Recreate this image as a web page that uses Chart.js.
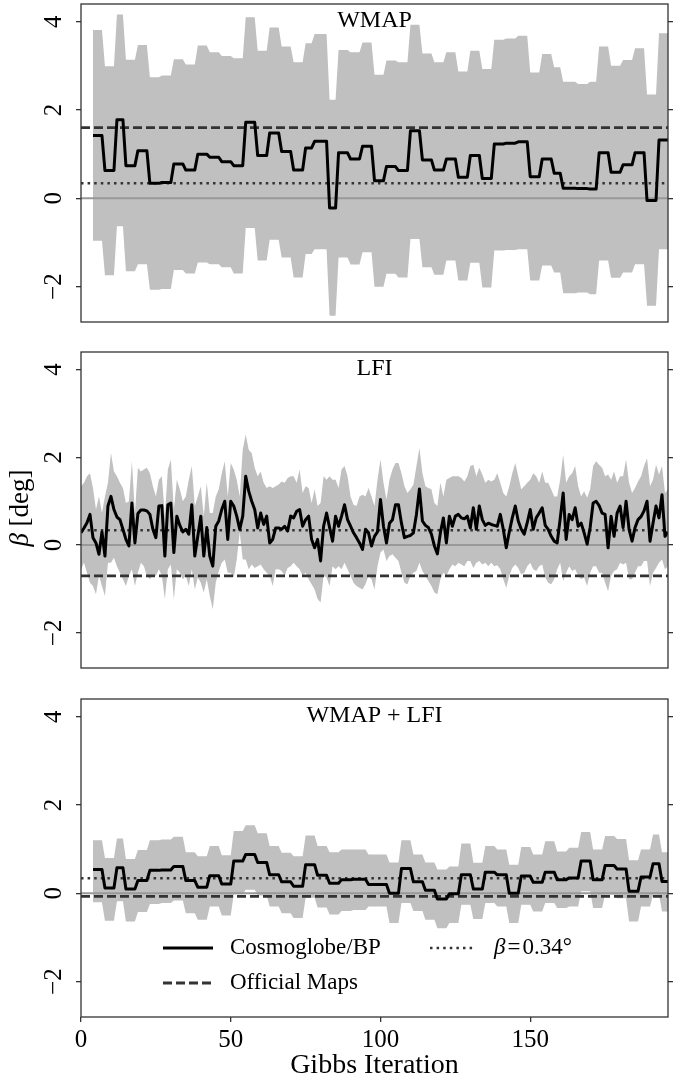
<!DOCTYPE html>
<html>
<head>
<meta charset="utf-8">
<script src="https://cdn.jsdelivr.net/npm/chart.js@4.4.0/dist/chart.umd.min.js"></script>
<style>
  html, body { margin: 0; padding: 0; background: #fff; }
  #wrap { position: relative; width: 691px; height: 1083px; }
  canvas { position: absolute; left: 0; }
</style>
</head>
<body>
<div id="wrap">
  <canvas id="c1" width="691" height="340" style="top:0px"></canvas>
  <canvas id="c2" width="691" height="340" style="top:340px"></canvas>
  <canvas id="c3" width="691" height="403" style="top:680px"></canvas>
</div>
<script>
const X_MAX = 196;
const Y_MIN = -2.8, Y_MAX = 4.4;
const xTicks = [0, 50, 100, 150];
const yTicks = [-2, 0, 2, 4];
const betaRef = 0.34;
const officialWmap = 1.60;
const officialLfi = -0.70;
const officialBoth = -0.07;

// WMAP only: sampler holds each value for a few iterations
const wmapStart = [4, 8, 12, 15, 19, 23, 27, 31, 35, 39, 43, 47, 51, 55, 59, 63, 67, 71, 75, 78, 83, 86, 90, 94, 98,
  102, 106, 110, 114, 118, 122, 126, 130, 134, 138, 142, 146, 150, 154, 158, 161, 166, 170, 173, 177, 181, 185, 189, 193];
const wmapEnd = [7, 11, 14, 18, 22, 26, 30, 34, 38, 42, 46, 50, 54, 58, 62, 66, 70, 74, 77, 82, 85, 89, 93, 97, 101,
  105, 109, 113, 117, 121, 125, 129, 133, 137, 141, 145, 149, 153, 157, 160, 165, 169, 172, 176, 180, 184, 188, 192, 196];
const wmapMean = [1.42, 0.63, 1.78, 0.74, 1.08, 0.34, 0.36, 0.78, 0.64, 1.00, 0.93, 0.83, 0.74, 1.72, 0.97, 1.48, 1.06,
  0.64, 1.14, 1.29, -0.22, 1.03, 0.89, 1.18, 0.40, 0.72, 0.63, 1.53, 0.87, 0.64, 0.89, 0.48, 0.97, 0.45, 1.23, 1.25,
  1.28, 0.49, 0.89, 0.57, 0.23, 0.22, 0.21, 1.03, 0.59, 0.76, 1.03, -0.05, 1.32];
const wmapLow = [-0.96, -1.74, -0.63, -1.65, -1.49, -2.07, -2.05, -1.62, -1.70, -1.45, -1.49, -1.56, -1.70, -0.67, -1.41,
  -0.94, -1.34, -1.79, -1.26, -1.15, -2.66, -1.34, -1.50, -1.22, -2.00, -1.71, -1.79, -0.92, -1.56, -1.73, -1.41, -1.86,
  -1.46, -2.02, -1.18, -1.17, -1.15, -1.86, -1.52, -1.68, -2.15, -2.13, -2.17, -1.41, -1.80, -1.68, -1.49, -2.43, -1.15];
const wmapHigh = [3.81, 2.99, 4.16, 3.14, 3.47, 2.74, 2.78, 3.15, 3.03, 3.46, 3.31, 3.22, 3.17, 4.10, 3.34, 3.87, 3.44,
  3.08, 3.51, 3.72, 2.23, 3.36, 3.31, 3.53, 2.80, 3.12, 3.08, 3.93, 3.28, 3.08, 3.31, 2.87, 3.34, 2.93, 3.59, 3.62,
  3.68, 2.85, 3.27, 2.97, 2.64, 2.59, 2.64, 3.44, 3.00, 3.13, 3.40, 2.35, 3.74];

// LFI: one value per iteration, starting at 0
const lfiFirst = 0;
const lfiMean = [
  0.28, 0.39, 0.51, 0.70, 0.17, 0.05, -0.21, 0.30, -0.25, 0.89,
  1.11, 0.81, 0.64, 0.58, 0.36, 0.13, -0.02, 0.96, 0.05, 0.72,
  0.80, 0.80, 0.78, 0.70, 0.36, 0.17, 0.89, 0.90, -0.25, 0.92,
  0.96, -0.17, 0.66, 0.45, 0.30, 0.36, 0.25, 0.92, -0.25, 0.20,
  0.66, -0.25, 0.40, -0.25, -0.48, 0.43, 0.55, 0.81, 1.00, 0.13,
  1.00, 0.89, 0.66, 0.36, 0.66, 1.57, 1.23, 1.00, 0.81, 0.39,
  0.73, 0.47, 0.66, 0.05, 0.13, 0.39, 0.39, 0.36, 0.43, 0.32,
  0.66, 0.62, 0.77, 0.81, 0.43, 0.58, 0.66, 0.13, -0.06, 0.13,
  -0.36, 0.43, 0.73, 0.40, 0.09, 0.66, 0.43, 0.66, 0.92, 0.58,
  0.43, 0.28, 0.17, 0.05, -0.10, 0.36, 0.28, -0.02, 0.20, 0.30,
  1.04, 0.43, 0.05, 0.50, 0.58, 0.92, 0.92, 0.50, 0.17, 0.20,
  0.22, 0.28, 0.70, 1.28, 0.55, 0.45, 0.40, 0.25, -0.02, -0.20,
  0.28, 0.62, 0.05, 0.66, 0.43, 0.66, 0.70, 0.62, 0.60, 0.66,
  0.39, 0.85, 0.36, 0.89, 0.58, 0.45, 0.50, 0.47, 0.45, 0.43,
  0.70, 0.36, -0.06, 0.30, 0.62, 0.89, 0.55, 0.36, 0.25, 0.51,
  0.81, 0.36, 0.62, 0.73, 0.85, 0.45, 0.36, 0.20, 0.09, 0.05,
  0.60, 1.19, 0.13, 0.70, 0.58, 0.85, 0.43, 0.50, 0.28, 0.02,
  0.40, 0.96, 1.00, 0.90, 0.73, 0.70, -0.06, 0.66, 0.20, 0.73,
  0.89, 0.40, 1.00, 0.36, 0.09, 0.40, 0.58, 0.65, 0.78, 1.00,
  0.09, 0.50, 0.89, 0.62, 1.15, 0.20, 0.30];
const lfiHigh = [
  1.34, 1.42, 1.57, 1.64, 1.30, 0.81, 1.11, 0.73, 1.11, 1.42,
  2.10, 1.68, 1.57, 1.42, 1.30, 0.96, 1.00, 1.91, 0.73, 1.76,
  1.68, 1.72, 1.76, 1.64, 1.34, 1.11, 1.49, 1.57, 0.66, 1.72,
  1.95, 0.81, 1.49, 1.27, 1.00, 1.11, 1.49, 1.80, 0.89, 1.11,
  1.34, 0.66, 1.42, 0.73, 0.73, 1.11, 1.27, 1.64, 1.91, 1.11,
  1.87, 1.72, 1.49, 1.11, 2.17, 2.52, 2.17, 2.10, 1.76, 1.57,
  1.68, 1.42, 1.30, 1.34, 1.30, 1.34, 1.38, 1.45, 1.42, 1.53,
  1.57, 1.57, 1.42, 1.72, 1.19, 1.34, 1.30, 0.96, 1.27, 0.89,
  0.96, 1.57, 1.49, 1.57, 1.49, 1.49, 1.30, 1.72, 1.80, 1.57,
  1.11, 0.92, 0.89, 1.11, 1.15, 1.11, 1.30, 1.11, 0.89, 1.49,
  1.95, 1.42, 1.04, 1.49, 1.72, 1.87, 1.87, 1.64, 1.34, 1.19,
  1.27, 1.38, 1.80, 2.21, 1.64, 1.34, 1.30, 1.27, 0.96, 0.89,
  1.42, 1.11, 1.49, 1.53, 1.57, 1.57, 1.57, 1.53, 1.45, 1.57,
  1.80, 1.83, 1.57, 1.76, 1.61, 1.42, 1.49, 1.45, 1.49, 1.64,
  1.42, 1.19, 1.11, 1.34, 1.64, 1.87, 1.57, 1.27, 1.34, 1.42,
  1.49, 1.64, 1.57, 1.42, 1.68, 1.42, 1.42, 1.27, 1.11, 1.11,
  1.49, 2.06, 1.42, 1.57, 1.64, 1.80, 1.34, 1.11, 1.23, 1.08,
  1.27, 1.80, 1.91, 1.83, 1.76, 1.57, 1.61, 1.49, 1.68, 1.42,
  1.57, 1.57, 1.95, 1.42, 1.19, 1.30, 1.45, 1.57, 1.80, 1.98,
  1.34, 1.49, 1.83, 1.61, 1.80, 1.19, 1.27];
const lfiLow = [
  -0.55, -0.40, -0.63, -0.86, -0.93, -1.12, -0.70, -0.93, -1.16, -0.40,
  -0.40, -0.29, -0.48, -0.63, -0.78, -0.93, -0.70, -0.55, -0.93, -0.63,
  -0.40, -0.48, -0.70, -0.78, -0.67, -0.70, -0.55, -0.70, -1.23, -0.55,
  -0.44, -1.23, -0.55, -0.63, -0.78, -0.70, -0.93, -0.55, -1.01, -0.74,
  -0.86, -1.08, -0.78, -1.16, -1.46, -0.86, -0.59, -0.40, -0.33, -0.63,
  -0.63, -0.74, -0.33, 0.30, -0.33, -0.33, -0.55, -0.44, -0.52, -0.48,
  -0.44, -0.55, -0.63, -0.70, -0.93, -0.55, -0.55, -0.59, -0.70, -0.52,
  -0.48, -0.40, -0.48, -0.55, -0.70, -0.63, -0.78, -0.89, -1.01, -1.23,
  -1.31, -0.70, -0.74, -0.93, -0.48, -0.55, -0.48, -0.55, -0.40, -0.55,
  -0.70, -0.86, -0.93, -0.97, -1.01, -0.89, -0.70, -0.78, -1.01, -0.48,
  -0.17, -0.10, -0.36, -0.25, -0.21, -0.29, -0.36, -0.63, -0.86, -0.89,
  -0.70, -0.63, -0.59, -0.40, -0.59, -0.70, -0.82, -0.93, -1.08, -1.12,
  -0.78, -0.63, -0.70, -0.55, -0.44, -0.48, -0.40, -0.44, -0.48, -0.36,
  -0.36, -0.52, -0.40, -0.36, -0.44, -0.40, -0.48, -0.40, -0.48, -0.46,
  -0.55, -0.78, -0.97, -0.70, -0.52, -0.44, -0.52, -0.67, -0.63, -0.48,
  -0.40, -0.55, -0.59, -0.48, -0.44, -0.74, -0.86, -0.89, -0.78, -0.55,
  -0.40, -0.82, -0.63, -0.48, -0.59, -0.55, -0.70, -0.78, -0.74, -0.93,
  -0.63, -0.48, -0.48, -0.63, -0.63, -0.86, -1.05, -0.70, -0.59, -0.55,
  -0.40, -0.44, -0.40, -0.78, -0.78, -0.63, -0.48, -0.48, -0.36, -0.36,
  -0.93, -0.63, -0.52, -0.40, -0.33, -0.55, -0.48];

// WMAP + LFI: held values again
const bothStart = [4, 8, 12, 15, 19, 23, 27, 31, 35, 39, 43, 47, 51, 55, 59, 63, 67, 71, 75, 79, 83, 87, 91, 96,
  103, 107, 111, 115, 119, 123, 127, 131, 135, 139, 143, 147, 151, 155, 159, 163, 167, 171, 175, 179, 183, 187, 191, 194];
const bothEnd = [7, 11, 14, 18, 22, 26, 30, 34, 38, 42, 46, 50, 54, 58, 62, 66, 70, 74, 78, 82, 86, 90, 95, 102,
  106, 110, 114, 118, 122, 126, 130, 134, 138, 142, 146, 150, 154, 158, 162, 166, 170, 174, 178, 182, 186, 190, 193, 196];
const bothMean = [0.54, 0.12, 0.58, 0.10, 0.29, 0.52, 0.53, 0.61, 0.29, 0.14, 0.40, 0.21, 0.73, 0.88, 0.70, 0.42,
  0.26, 0.16, 0.65, 0.41, 0.23, 0.31, 0.32, 0.20, 0.00, 0.56, 0.26, 0.07, -0.13, -0.01, 0.42, 0.10, 0.48, 0.42,
  0.00, 0.39, 0.25, 0.48, 0.31, 0.35, 0.73, 0.31, 0.63, 0.55, 0.05, 0.37, 0.67, 0.27];
const bothLow = [-0.20, -0.62, -0.18, -0.64, -0.42, -0.24, -0.22, -0.16, -0.45, -0.60, -0.30, -0.50, -0.02, 0.08,
  -0.05, -0.30, -0.45, -0.56, -0.10, -0.32, -0.48, -0.40, -0.38, -0.30, -0.67, -0.22, -0.40, -0.60, -0.79, -0.67,
  -0.26, -0.58, -0.22, -0.30, -0.67, -0.26, -0.41, -0.22, -0.33, -0.30, 0.05, -0.33, -0.03, -0.11, -0.64, -0.30,
  -0.03, -0.41];
const bothHigh = [1.20, 0.80, 1.24, 0.78, 0.98, 1.20, 1.22, 1.28, 0.93, 0.84, 1.07, 0.86, 1.41, 1.54, 1.36, 1.07,
  0.92, 0.84, 1.31, 1.07, 0.93, 0.99, 0.99, 0.88, 0.70, 1.20, 0.88, 0.70, 0.54, 0.61, 1.13, 0.69, 1.07, 0.99,
  0.65, 1.05, 0.88, 1.18, 0.95, 1.03, 1.39, 0.99, 1.30, 1.23, 0.75, 0.99, 1.33, 0.93];

const SERIF = "'Liberation Serif', 'DejaVu Serif', serif";
Chart.defaults.font.family = SERIF;
Chart.defaults.color = '#000';

const AXIS_COLOR = '#333';
const BAND_COLOR = '#c0c0c0';
const DASH = [9, 4];
const DOTS = [2.5, 4.1];

function heldPoints(starts, ends, vals) {
  const pts = [];
  starts.forEach((s, i) => {
    pts.push({ x: s, y: vals[i] }, { x: ends[i], y: vals[i] });
  });
  return pts;
}

function iterPoints(first, vals) {
  return vals.map((v, i) => ({ x: first + i, y: v }));
}

function hline(v) {
  return [{ x: 0, y: v }, { x: X_MAX, y: v }];
}

const fmtTick = v => (v < 0 ? '\u2212' + (-v) : String(v));

// frame round the plot area, the panel title and (middle panel) the y label
const framePlugin = {
  id: 'frame',
  afterDraw(chart, args, opts) {
    const { ctx, chartArea: a } = chart;
    ctx.save();
    ctx.strokeStyle = AXIS_COLOR;
    ctx.lineWidth = 1.3;
    ctx.strokeRect(a.left, a.top, a.right - a.left, a.bottom - a.top);
    ctx.fillStyle = '#000';
    ctx.font = '24px ' + SERIF;
    ctx.textAlign = 'center';
    ctx.textBaseline = 'alphabetic';
    ctx.fillText(opts.title, (a.left + a.right) / 2, a.top + 23);
    if (opts.yLabel) {
      ctx.translate(28, (a.top + a.bottom) / 2 - 2);
      ctx.rotate(-Math.PI / 2);
      ctx.font = 'italic 27px ' + SERIF;
      const b = '\u03b2';
      const rest = ' [deg]';
      const wb = ctx.measureText(b).width;
      ctx.font = '27px ' + SERIF;
      const wr = ctx.measureText(rest).width;
      const x0 = -(wb + wr) / 2;
      ctx.textAlign = 'left';
      ctx.font = 'italic 27px ' + SERIF;
      ctx.fillText(b, x0, 0);
      ctx.font = '27px ' + SERIF;
      ctx.fillText(rest, x0 + wb, 0);
    }
    ctx.restore();
  }
};

// legend without frame, two columns, inside the bottom panel
const legendPlugin = {
  id: 'innerLegend',
  afterDraw(chart, args, opts) {
    if (!opts.show) return;
    const ctx = chart.ctx;
    const ds = chart.data.datasets;
    const rows = [
      { d: ds[0], x: 163, y: 268, w: 50, text: ds[0].label },
      { d: ds[2], x: 163, y: 303, w: 50, text: ds[2].label },
      { d: ds[1], x: 430, y: 268, w: 45, beta: true }
    ];
    ctx.save();
    rows.forEach(r => {
      ctx.beginPath();
      ctx.strokeStyle = r.d.borderColor;
      ctx.lineWidth = r.d.borderWidth;
      ctx.setLineDash(r.d.borderDash || []);
      ctx.moveTo(r.x, r.y);
      ctx.lineTo(r.x + r.w, r.y);
      ctx.stroke();
      ctx.setLineDash([]);
      ctx.fillStyle = '#000';
      ctx.textBaseline = 'middle';
      ctx.textAlign = 'left';
      let tx = r.x + r.w + 17;
      if (r.beta) {
        tx = 494;
        ctx.font = 'italic 23px ' + SERIF;
        ctx.fillText('\u03b2', tx, r.y);
        tx += ctx.measureText('\u03b2').width + 2;
        ctx.font = '23px ' + SERIF;
        ctx.fillText('=', tx, r.y);
        tx += ctx.measureText('=').width + 2;
        ctx.fillText('0.34\u00b0', tx, r.y);
      } else {
        ctx.font = '23px ' + SERIF;
        ctx.fillText(r.text, tx, r.y);
      }
    });
    ctx.restore();
  }
};

function makeChart(id, cfg) {
  const setTicks = list => scale => { scale.ticks = list.map(v => ({ value: v })); };
  const noPad = s => { s.paddingTop = 0; s.paddingBottom = 0; s.paddingLeft = 0; s.paddingRight = 0; };
  const datasets = [
    { label: 'Cosmoglobe/BP', data: cfg.mean, borderColor: '#000', borderWidth: 3, borderJoinStyle: 'round' },
    { label: '\u03b2=0.34\u00b0', data: hline(betaRef), borderColor: '#333', borderWidth: 2.6, borderDash: DOTS },
    { label: 'Official Maps', data: hline(cfg.official), borderColor: '#333', borderWidth: 2.8, borderDash: DASH },
    { label: 'zero', data: hline(0), borderColor: '#999', borderWidth: 2 },
    { label: 'upper', data: cfg.high, borderWidth: 0, borderColor: 'rgba(0,0,0,0)', fill: '+1', backgroundColor: BAND_COLOR },
    { label: 'lower', data: cfg.low, borderWidth: 0, borderColor: 'rgba(0,0,0,0)', fill: false }
  ];
  datasets.forEach(d => { d.pointRadius = 0; d.tension = 0; });

  return new Chart(document.getElementById(id), {
    type: 'line',
    data: { datasets },
    options: {
      responsive: false,
      animation: false,
      events: [],
      layout: { padding: { top: cfg.padTop, left: 0, right: 0, bottom: 0 } },
      plugins: {
        legend: { display: false },
        tooltip: { enabled: false },
        frame: { title: cfg.title, yLabel: !!cfg.yLabel },
        innerLegend: { show: !!cfg.legend }
      },
      scales: {
        x: {
          type: 'linear', min: 0, max: X_MAX,
          afterBuildTicks: setTicks(xTicks),
          afterFit: s => { noPad(s); s.height = cfg.xHeight; },
          border: { display: false },
          grid: { display: cfg.showX, drawOnChartArea: false, tickLength: 5, color: AXIS_COLOR, lineWidth: 1.3 },
          ticks: { display: cfg.showX, padding: 3, maxRotation: 0, font: { size: 25 } },
          title: { display: cfg.showX, text: 'Gibbs Iteration', padding: { top: 0, bottom: 1 }, font: { size: 28 } }
        },
        y: {
          type: 'linear', min: Y_MIN, max: Y_MAX,
          afterBuildTicks: setTicks(yTicks),
          afterFit: s => { noPad(s); s.width = 81; },
          border: { display: false },
          grid: { drawOnChartArea: false, tickLength: 5, color: AXIS_COLOR, lineWidth: 1.3 },
          ticks: { minRotation: 90, maxRotation: 90, crossAlign: 'center', padding: 8, font: { size: 25 }, callback: fmtTick }
        },
        y2: {
          type: 'linear', position: 'right', min: Y_MIN, max: Y_MAX,
          afterBuildTicks: setTicks(yTicks),
          afterFit: s => { noPad(s); s.width = 23; },
          border: { display: false },
          grid: { drawOnChartArea: false, tickLength: 5, color: AXIS_COLOR, lineWidth: 1.3 },
          ticks: { display: false }
        }
      }
    },
    plugins: [framePlugin, legendPlugin]
  });
}

makeChart('c1', {
  title: 'WMAP', padTop: 4, xHeight: 18, showX: false, official: officialWmap,
  mean: heldPoints(wmapStart, wmapEnd, wmapMean),
  low: heldPoints(wmapStart, wmapEnd, wmapLow),
  high: heldPoints(wmapStart, wmapEnd, wmapHigh)
});

makeChart('c2', {
  title: 'LFI', padTop: 12, xHeight: 12, showX: false, official: officialLfi, yLabel: true,
  mean: iterPoints(lfiFirst, lfiMean),
  low: iterPoints(lfiFirst, lfiLow),
  high: iterPoints(lfiFirst, lfiHigh)
});

makeChart('c3', {
  title: 'WMAP + LFI', padTop: 19, xHeight: 66, showX: true, official: officialBoth, legend: true,
  mean: heldPoints(bothStart, bothEnd, bothMean),
  low: heldPoints(bothStart, bothEnd, bothLow),
  high: heldPoints(bothStart, bothEnd, bothHigh)
});
</script>
</body>
</html>
